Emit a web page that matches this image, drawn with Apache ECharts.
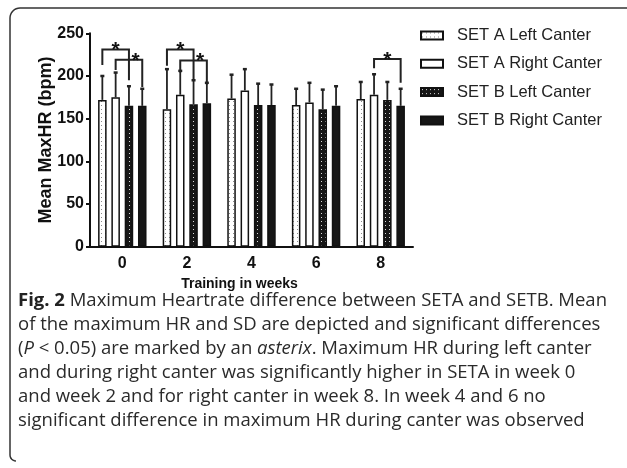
<!DOCTYPE html>
<html><head><meta charset="utf-8">
<script src="https://cdn.jsdelivr.net/npm/echarts@6/dist/echarts.min.js"></script>
<style>html,body{margin:0;padding:0;background:#fff}#c{width:627px;height:468px}</style>
</head><body><div id="c"></div>
<script>
// ---- data ----
const weeks = ['0', '2', '4', '6', '8'];
const seriesNames = ['SET A Left Canter', 'SET A Right Canter', 'SET B Left Canter', 'SET B Right Canter'];
const meanALeft  = [172, 161, 173.5, 166, 173];
const meanARight = [175, 178, 183, 169, 178];
const meanBLeft  = [165, 167, 166, 161, 172];
const meanBRight = [165, 168, 166, 165, 165];
const sdALeft  = [28, 47, 28, 19, 20];
const sdARight = [29, 28, 25, 23, 24];
const sdBLeft  = [23, 28, 25, 23, 21];
const sdBRight = [20, 24, 24, 23, 20];
const yTicks = [0, 50, 100, 150, 200, 250];
// significance brackets: [week index, from bar, to bar, bracket value, left leg end, right leg end, star bar position]
const brackets = [
  [0, 0, 2, 231, 213, 195, 1],
  [0, 1, 3, 219, 207, 187, 2.5],
  [1, 0, 2, 231, 212, 196, 1],
  [1, 1, 3, 218, 204, 190, 2.5],
  [4, 1, 3, 220, 209, 192, 2]
];
const captionLines = [
  '{b|Fig. 2} Maximum Heartrate difference between SETA and SETB. Mean',
  'of the maximum HR and SD are depicted and significant differences',
  '({i|P} < 0.05) are marked by an {i|asterix}. Maximum HR during left canter',
  'and during right canter was significantly higher in SETA in week 0',
  'and week 2 and for right canter in week 8. In week 4 and 6 no',
  'significant difference in maximum HR during canter was observed'
];

const means = [meanALeft, meanARight, meanBLeft, meanBRight];
const sds = [sdALeft, sdARight, sdBLeft, sdBRight];

// ---- styles ----
const BW = 0.132, GAP = 0.56;
function makePattern(bg, dot) {
  const cv = document.createElement('canvas');
  cv.width = 4; cv.height = 4;
  const ctx = cv.getContext('2d');
  ctx.fillStyle = bg; ctx.fillRect(0, 0, 4, 4);
  ctx.fillStyle = dot; ctx.fillRect(1, 1, 1, 1);
  return { image: cv, repeat: 'repeat' };
}
const fills = [
  makePattern('#ffffff', '#8a8a8a'),
  '#ffffff',
  makePattern('#161616', '#d8d8d8'),
  '#161616'
];
const FONT = 'Liberation Sans, Arial, sans-serif';
const CAPFONT = 'Open Sans';
const CAPSIZE = 18.5;

function barX(api, cat, idx) {
  const band = api.size([1, 0])[0];
  const bw = band * BW, gap = bw * GAP;
  const total = 4 * bw + 3 * gap;
  const c = api.coord([cat, 0])[0];
  return c - total / 2 + idx * (bw + gap) + bw / 2;
}

const errData = [];
means.forEach((m, s) => m.forEach((v, i) => errData.push([i, s, v, sds[s][i]])));

const series = means.map((m, s) => ({
  name: seriesNames[s],
  type: 'bar',
  data: m,
  barWidth: (BW * 100) + '%',
  barGap: (GAP * 100) + '%',
  itemStyle: { color: fills[s], borderColor: '#111', borderWidth: 1.5 },
  emphasis: { disabled: true },
  animation: false
}));

series.push({
  type: 'custom',
  data: errData,
  clip: false,
  z: 5,
  animation: false,
  renderItem: function (params, api) {
    const cat = api.value(0), s = api.value(1), m = api.value(2), sd = api.value(3);
    const x = barX(api, cat, s);
    const y0 = api.coord([cat, m])[1];
    const y1 = api.coord([cat, m + sd])[1];
    return {
      type: 'group',
      children: [
        { type: 'line', shape: { x1: x, y1: y0, x2: x, y2: y1 }, style: { stroke: '#222', lineWidth: 1.8 } },
        { type: 'line', shape: { x1: x - 2, y1: y1, x2: x + 2, y2: y1 }, style: { stroke: '#222', lineWidth: 2.5 } }
      ]
    };
  }
});

series.push({
  type: 'custom',
  data: brackets,
  clip: false,
  z: 6,
  animation: false,
  renderItem: function (params, api) {
    const cat = api.value(0), a = api.value(1), b = api.value(2);
    const xa = barX(api, cat, a), xb = barX(api, cat, b);
    const xs = barX(api, cat, api.value(6));
    const yTop = api.coord([cat, api.value(3)])[1];
    const yl = api.coord([cat, api.value(4)])[1];
    const yr = api.coord([cat, api.value(5)])[1];
    return {
      type: 'group',
      children: [
        { type: 'polyline', shape: { points: [[xa, yl], [xa, yTop], [xb, yTop], [xb, yr]] },
          style: { stroke: '#222', lineWidth: 2, fill: null } },
        { type: 'text', style: { text: '*', x: xs, y: yTop + 1, align: 'center', verticalAlign: 'middle',
          font: 'bold 21px ' + FONT, fill: '#111' } }
      ]
    };
  }
});

// frame with rounded corners (top-left and bottom-left)
const framePts = [];
framePts.push([16, 461]);
for (let k = 0; k <= 6; k++) { const a = Math.PI / 2 + k * (Math.PI / 2) / 6; framePts.push([16 + 6 * Math.cos(a), 455 + 6 * Math.sin(a)]); }
for (let k = 0; k <= 8; k++) { const a = Math.PI + k * (Math.PI / 2) / 8; framePts.push([20 + 10 * Math.cos(a), 18 + 10 * Math.sin(a)]); }
framePts.push([640, 8]);

const chart = echarts.init(document.getElementById('c'), null, { renderer: 'canvas' });
chart.setOption({
  animation: false,
  backgroundColor: '#fff',
  grid: { left: 90, top: 33.3, width: 323, height: 213.4, containLabel: false },
  legend: {
    orient: 'vertical', left: 415, top: 22,
    itemWidth: 22, itemHeight: 8, itemGap: 11.3,
    icon: 'rect',
    data: seriesNames,
    selectedMode: false,
    textStyle: { fontFamily: FONT, fontSize: 16.5, color: '#222', padding: [0, 0, 0, 9] }
  },
  xAxis: {
    type: 'category', data: weeks,
    axisLine: { lineStyle: { color: '#111', width: 2 } },
    axisTick: { alignWithLabel: true, length: 5, lineStyle: { color: '#111', width: 2 } },
    axisLabel: { fontFamily: FONT, fontWeight: 'bold', fontSize: 16, color: '#111', margin: 9 },
    name: 'Training in weeks', nameLocation: 'middle', nameGap: 30,
    nameTextStyle: { fontFamily: FONT, fontWeight: 'bold', fontSize: 14, color: '#111', padding: [0, 24, 0, 0] }
  },
  yAxis: {
    type: 'value', min: yTicks[0], max: yTicks[yTicks.length - 1], interval: yTicks[1] - yTicks[0],
    axisLine: { show: true, lineStyle: { color: '#111', width: 2 } },
    axisTick: { show: true, length: 4, lineStyle: { color: '#111', width: 2 } },
    splitLine: { show: false },
    axisLabel: { fontFamily: FONT, fontWeight: 'bold', fontSize: 16, color: '#111', margin: 6 },
    name: 'Mean MaxHR (bpm)', nameLocation: 'middle', nameGap: 35, nameMoveOverlap: false,
    nameTextStyle: { fontFamily: FONT, fontWeight: 'bold', fontSize: 18, color: '#111' }
  },
  graphic: [
    { type: 'polyline', shape: { points: framePts },
      style: { stroke: '#333', lineWidth: 1.5, fill: null }, silent: true }
  ].concat(captionLines.map((t, i) => ({
    type: 'text', left: 18, top: 291 + i * 24, silent: true,
    style: {
      text: t, font: CAPSIZE + 'px "' + CAPFONT + '", sans-serif', fill: '#2a2a2a',
      rich: {
        b: { fontFamily: CAPFONT, fontWeight: 'bold', fontSize: CAPSIZE, fill: '#222' },
        i: { fontFamily: CAPFONT, fontStyle: 'italic', fontSize: CAPSIZE, fill: '#2a2a2a' }
      }
    }
  }))),
  series: series
});
</script></body></html>
